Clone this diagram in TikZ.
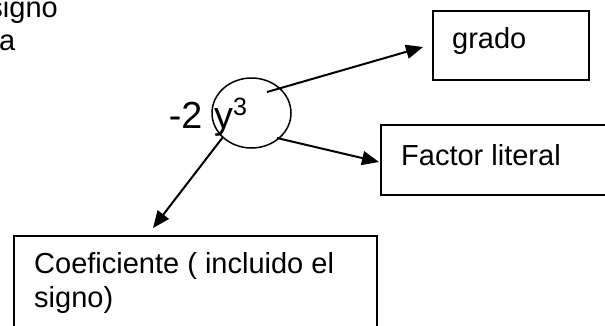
\documentclass[tikz,border=0pt]{standalone}
\usepackage{fontspec}
\setmainfont{Liberation Sans}
\usetikzlibrary{arrows.meta,shapes.geometric}
\begin{document}
\begin{tikzpicture}[x=1pt,y=-1pt,
  lbl/.style={font=\fontsize{29}{33.5}\selectfont, inner sep=0pt},
  big/.style={font=\fontsize{37.7}{40}\selectfont, inner sep=0pt},
  box/.style={draw, line width=1.5pt, inner sep=0pt, anchor=north west},
  arr/.style={line width=2pt, -{Triangle[length=17pt,width=14pt]}}]
\useasboundingbox (0,0) rectangle (605,325);
\clip (0,0) rectangle (605,325);

% text running in from the left edge
\node[lbl, anchor=base east] (sig) at (58,17) {signo};
\node[lbl, anchor=base west] (la) at (-1,50) {a};

% the monomial with the circled literal part
\node[big, anchor=base east] (num) at (202.5,128) {-2};
\node[big, anchor=base west] (lit) at (214,128) {y\raisebox{13pt}{\fontsize{25}{27}\selectfont 3}};
\node[draw, ellipse, line width=1.5pt, minimum width=79pt, minimum height=70pt, inner sep=0pt] (oval) at (251.5,113) {};

% label boxes
\node[box, minimum width=156pt, minimum height=69pt] (grado) at (432,10) {};
\node[lbl, anchor=base west] (gradotxt) at (452,48) {grado};

\node[box, minimum width=240pt, minimum height=70pt] (factor) at (380,124) {};
\node[lbl, anchor=base west] (factortxt) at (401,165) {Factor literal};

\node[box, minimum width=363pt, minimum height=110pt] (coefbox) at (13,235) {};
\node[lbl, anchor=base west] (coeftxt) at (34,273) {Coeficiente ( incluido el};
\node[lbl, anchor=base west] (coeftxtb) at (34,307) {signo)};

% arrow ends
\coordinate (s1) at (267,92);
\coordinate (t1) at (423,47);
\coordinate (s2) at (277,138);
\coordinate (t2) at (379,162);
\coordinate (s3) at (223,137);
\coordinate (t3) at (153,228);

\draw[arr] (s1) -- (t1);
\draw[arr] (s2) -- (t2);
\draw[arr] (s3) -- (t3);
\end{tikzpicture}
\end{document}
